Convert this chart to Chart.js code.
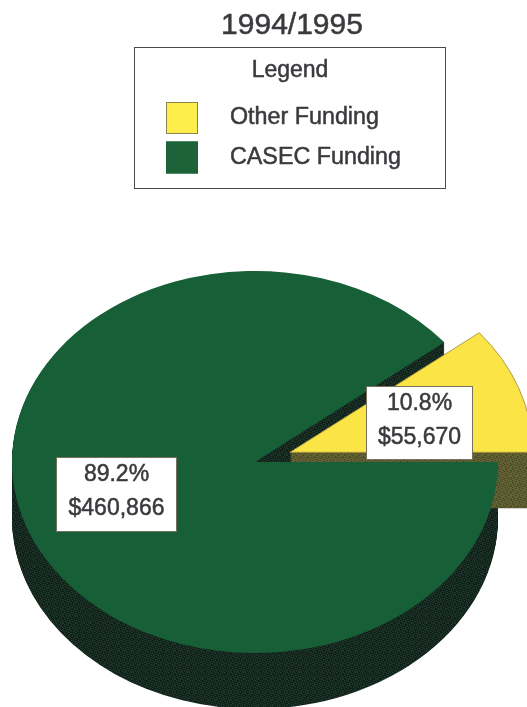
<!DOCTYPE html>
<html lang="en">
<head>
  <meta charset="UTF-8"/>
  <title>1994/1995 Funding</title>
  <script src="https://cdn.jsdelivr.net/npm/chart.js@4.4.1/dist/chart.umd.min.js"></script>
  <style>
    html, body { margin: 0; background: #fff; overflow: hidden; }
    canvas { display: block; }
  </style>
</head>
<body>
  <canvas id="pie" width="527" height="707"></canvas>
  <script>
    const titleText = '1994/1995';
    const legendTitle = 'Legend';
    const categories = ['Other Funding', 'CASEC Funding'];
    const amounts = [55670, 460866];
    const percents = ['10.8%', '89.2%'];
    const amountLabels = ['$55,670', '$460,866'];
    const topColors = ['#fbe546', '#165f37'];
    const sideColors = ['#5c5a2c', '#13261e'];
    const legendColors = ['#fdee4c', '#1d6238'];

    const FONT = '"Liberation Sans", Arial, sans-serif';
    const INK = '#3a3a3e';
    const SQUASH = 0.786;   // pie tilt, height over width
    const DEPTH = 56;       // thickness of the disc in px
    const EXPLODE = 37;     // how far the small slice is pulled out

    // first slice ends on the horizontal, so it starts this far round from the top
    const startAngle = 90 - 360 * amounts[0] / (amounts[0] + amounts[1]);

    function squash(ctx, chart) {
      const meta = chart.getDatasetMeta(0);
      const { x, y } = meta.data[1];
      ctx.translate(x, y);
      ctx.scale(1, SQUASH);
      ctx.translate(-x, -y);
    }

    // small repeating speckle laid over the sides of the disc
    function speckle(ctx) {
      const tile = document.createElement('canvas');
      tile.width = tile.height = 7;
      const t = tile.getContext('2d');
      t.fillStyle = 'rgba(150,220,170,0.16)';
      [[0, 0], [3, 1], [5, 2], [1, 3], [6, 4], [2, 5], [4, 6]].forEach(p => t.fillRect(p[0], p[1], 1, 1));
      t.fillStyle = 'rgba(255,255,200,0.08)';
      [[5, 0], [1, 1], [3, 3], [4, 4], [0, 5], [6, 6]].forEach(p => t.fillRect(p[0], p[1], 1, 1));
      t.fillStyle = 'rgba(0,0,0,0.25)';
      [[2, 0], [6, 1], [0, 2], [3, 2], [5, 3], [1, 4], [4, 5], [1, 6]].forEach(p => t.fillRect(p[0], p[1], 1, 1));
      return ctx.createPattern(tile, 'repeat');
    }

    const tiltPlugin = {
      id: 'tilt',
      // pull the small slice out along its middle angle
      afterDatasetsUpdate(chart) {
        const arc = chart.getDatasetMeta(0).data[0];
        const mid = (arc.startAngle + arc.endAngle) / 2;
        arc.x += Math.cos(mid) * EXPLODE;
        arc.y += Math.sin(mid) * EXPLODE;
      },
      // tilted disc: draws the sides, then leaves the squash on for the normal arc draw
      beforeDatasetsDraw(chart) {
        const ctx = chart.ctx;
        const arcs = chart.getDatasetMeta(0).data;
        [1, 0].forEach(i => {
          const arc = arcs[i];
          const saved = arc.options;
          arc.options = Object.assign({}, saved, {
            backgroundColor: sideColors[i], borderColor: sideColors[i], borderWidth: 0
          });
          for (let d = DEPTH; d > 0; d--) {
            ctx.save();
            ctx.translate(0, d);
            squash(ctx, chart);
            arc.draw(ctx);
            ctx.restore();
          }
          arc.options = saved;
        });
        ctx.save();
        ctx.globalCompositeOperation = 'source-atop';
        ctx.fillStyle = speckle(ctx);
        ctx.fillRect(0, 0, chart.width, chart.height);
        ctx.restore();

        ctx.save();
        squash(ctx, chart);
      },
      afterDatasetsDraw(chart) {
        chart.ctx.restore();
      }
    };

    // the type is a little heavier than plain regular weight
    function inkText(ctx, text, x, y) {
      ctx.fillStyle = INK;
      ctx.strokeStyle = INK;
      ctx.lineWidth = 0.5;
      ctx.strokeText(text, x, y);
      ctx.fillText(text, x, y);
    }

    function centerText(ctx, text, x, y, size) {
      ctx.font = size + 'px ' + FONT;
      ctx.textAlign = 'center';
      ctx.textBaseline = 'middle';
      inkText(ctx, text, x, y);
    }

    function valueBox(ctx, i, left, top, w, h) {
      ctx.fillStyle = '#fff';
      ctx.fillRect(left, top, w, h);
      ctx.strokeStyle = '#77705c';
      ctx.lineWidth = 1;
      ctx.strokeRect(left + 0.5, top + 0.5, w - 1, h - 1);
      centerText(ctx, percents[i], left + w / 2, top + 18, 23);
      centerText(ctx, amountLabels[i], left + w / 2, top + 52, 23);
    }

    // title, framed legend and the two value boxes
    const annotationPlugin = {
      id: 'annotations',
      afterDraw(chart) {
        const ctx = chart.ctx;
        ctx.save();
        centerText(ctx, titleText, 292, 26, 30);

        ctx.strokeStyle = '#4a4a4a';
        ctx.lineWidth = 1;
        ctx.strokeRect(134.5, 47.5, 311, 141);
        centerText(ctx, legendTitle, 290, 71, 23);

        categories.forEach((name, i) => {
          const rowTop = 102 + i * 39.5;
          ctx.fillStyle = legendColors[i];
          ctx.fillRect(166, rowTop, 32, 32);
          ctx.strokeStyle = i === 0 ? '#8a8350' : legendColors[i];
          ctx.lineWidth = 1;
          ctx.strokeRect(166.5, rowTop + 0.5, 31, 31);
          ctx.font = '23.3px ' + FONT;
          ctx.textAlign = 'left';
          ctx.textBaseline = 'middle';
          inkText(ctx, name, 230, rowTop + 16);
        });

        valueBox(ctx, 0, 366, 386, 107, 74);
        valueBox(ctx, 1, 56, 457, 121, 75);
        ctx.restore();
      }
    };

    new Chart(document.getElementById('pie'), {
      type: 'pie',
      data: {
        labels: categories,
        datasets: [{
          data: amounts,
          backgroundColor: topColors,
          borderColor: ['#a8933e', topColors[1]],
          borderWidth: [1, 0],
          radius: 243,
          clip: false
        }]
      },
      options: {
        responsive: false,
        animation: false,
        rotation: startAngle,
        layout: { padding: { left: 0, right: 17, top: 217, bottom: 0 } },
        plugins: {
          legend: { display: false },
          tooltip: { enabled: false }
        }
      },
      plugins: [tiltPlugin, annotationPlugin]
    });
  </script>
</body>
</html>
